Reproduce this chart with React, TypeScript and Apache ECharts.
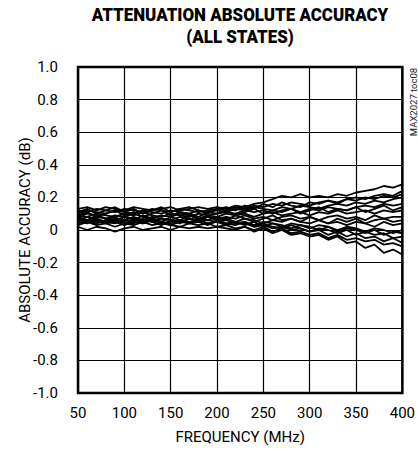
import React, { useEffect, useRef } from "react";
import * as echarts from "echarts";

const freqs = [50,60,70,80,90,100,110,120,130,140,150,160,170,180,190,200,210,220,230,240,250,260,270,280,290,300,310,320,330,340,350,360,370,380,390,400];

const s1 = [0.13,0.14,0.12,0.14,0.13,0.12,0.14,0.13,0.12,0.13,0.14,0.12,0.13,0.14,0.13,0.14,0.13,0.15,0.14,0.16,0.17,0.19,0.21,0.20,0.22,0.20,0.21,0.20,0.22,0.21,0.23,0.24,0.25,0.27,0.26,0.28];
const s2 = [0.12,0.11,0.13,0.12,0.11,0.13,0.12,0.11,0.13,0.12,0.11,0.13,0.12,0.11,0.12,0.13,0.12,0.14,0.13,0.15,0.14,0.16,0.15,0.17,0.16,0.15,0.17,0.18,0.17,0.19,0.20,0.19,0.21,0.22,0.21,0.24];
const s3 = [0.10,0.12,0.11,0.10,0.12,0.11,0.10,0.12,0.11,0.10,0.12,0.11,0.10,0.12,0.11,0.12,0.11,0.13,0.12,0.14,0.13,0.12,0.14,0.13,0.15,0.14,0.13,0.15,0.16,0.15,0.17,0.16,0.18,0.17,0.19,0.20];
const s4 = [0.09,0.08,0.10,0.09,0.08,0.10,0.09,0.11,0.09,0.08,0.10,0.09,0.08,0.10,0.09,0.10,0.11,0.10,0.12,0.11,0.12,0.10,0.12,0.13,0.11,0.13,0.12,0.14,0.13,0.12,0.14,0.15,0.14,0.16,0.15,0.16];
const s5 = [0.08,0.10,0.09,0.07,0.09,0.08,0.10,0.08,0.07,0.09,0.08,0.10,0.09,0.07,0.09,0.08,0.10,0.09,0.10,0.08,0.10,0.11,0.09,0.10,0.11,0.09,0.11,0.10,0.12,0.10,0.11,0.12,0.10,0.12,0.11,0.12];
const s6 = [0.07,0.06,0.08,0.07,0.06,0.08,0.07,0.06,0.08,0.07,0.06,0.08,0.07,0.06,0.08,0.07,0.08,0.07,0.09,0.07,0.08,0.06,0.08,0.09,0.07,0.08,0.06,0.08,0.09,0.07,0.08,0.06,0.09,0.07,0.08,0.08];
const s7 = [0.06,0.08,0.06,0.05,0.07,0.06,0.08,0.06,0.05,0.07,0.06,0.05,0.07,0.06,0.08,0.06,0.07,0.05,0.07,0.06,0.04,0.06,0.05,0.07,0.05,0.04,0.06,0.04,0.05,0.03,0.05,0.04,0.02,0.05,0.03,0.04];
const s8 = [0.05,0.04,0.06,0.05,0.04,0.06,0.05,0.04,0.06,0.04,0.05,0.06,0.04,0.05,0.06,0.05,0.06,0.04,0.05,0.03,0.05,0.04,0.02,0.04,0.03,0.01,0.03,0.02,0.00,0.02,0.01,-0.01,0.01,0.00,-0.02,0.00];
const s9 = [0.04,0.06,0.05,0.04,0.05,0.03,0.05,0.04,0.06,0.05,0.03,0.05,0.04,0.06,0.04,0.05,0.03,0.05,0.04,0.02,0.04,0.02,0.01,0.03,0.01,-0.01,0.01,0.00,-0.02,0.00,-0.03,-0.01,-0.03,-0.02,-0.05,-0.04];
const s10 = [0.06,0.05,0.07,0.05,0.06,0.04,0.06,0.05,0.07,0.05,0.04,0.06,0.05,0.06,0.04,0.05,0.04,0.03,0.05,0.02,0.03,0.01,0.02,0.00,0.01,-0.01,0.00,-0.03,-0.01,-0.04,-0.02,-0.05,-0.04,-0.07,-0.05,-0.08];
const s11 = [0.02,0.00,0.02,0.01,-0.01,0.01,0.02,0.00,0.01,0.02,0.00,0.02,0.01,0.02,0.01,0.02,0.01,0.00,0.02,-0.01,0.01,-0.02,0.00,-0.03,-0.02,-0.04,-0.03,-0.06,-0.04,-0.08,-0.07,-0.11,-0.09,-0.14,-0.12,-0.15];
const s12 = [0.03,0.05,0.03,0.04,0.02,0.04,0.03,0.05,0.03,0.04,0.03,0.02,0.04,0.03,0.04,0.02,0.03,0.01,0.02,0.00,0.02,-0.01,0.01,-0.02,-0.01,-0.03,-0.02,-0.05,-0.03,-0.06,-0.05,-0.07,-0.06,-0.09,-0.08,-0.10];
const s13 = [0.11,0.13,0.10,0.12,0.14,0.11,0.13,0.10,0.12,0.14,0.11,0.13,0.14,0.12,0.10,0.13,0.14,0.12,0.15,0.13,0.16,0.14,0.17,0.15,0.14,0.17,0.16,0.18,0.16,0.19,0.18,0.20,0.19,0.21,0.20,0.22];
const s14 = [0.09,0.11,0.08,0.10,0.12,0.09,0.11,0.08,0.10,0.12,0.09,0.11,0.10,0.08,0.11,0.10,0.12,0.09,0.11,0.13,0.10,0.12,0.11,0.13,0.10,0.12,0.14,0.11,0.13,0.12,0.14,0.11,0.13,0.15,0.12,0.14];
const s15 = [0.08,0.06,0.09,0.07,0.05,0.08,0.06,0.09,0.07,0.05,0.08,0.06,0.09,0.07,0.06,0.08,0.06,0.09,0.07,0.05,0.07,0.09,0.06,0.07,0.05,0.08,0.06,0.04,0.07,0.05,0.07,0.04,0.06,0.07,0.05,0.06];
const s16 = [0.07,0.05,0.04,0.06,0.08,0.05,0.04,0.07,0.05,0.03,0.06,0.04,0.07,0.05,0.03,0.06,0.04,0.05,0.03,0.05,0.02,0.04,0.03,0.01,0.03,0.02,0.00,0.02,-0.01,0.01,0.00,-0.02,0.00,-0.03,-0.01,-0.02];

const allSeries = [s1, s2, s3, s4, s5, s6, s7, s8, s9, s10, s11, s12, s13, s14, s15, s16];

const xTicks = [50, 100, 150, 200, 250, 300, 350, 400];
const yTickLabels = ["-1.0","-0.8","-0.6","-0.4","-0.2","0","0.2","0.4","0.6","0.8","1.0"];

const titleLines = ["ATTENUATION ABSOLUTE ACCURACY", "(ALL STATES)"];
const sideNote = "MAX2027 toc08";

const FONT = "Roboto, 'Liberation Sans', sans-serif";

export default function App() {
  const ref = useRef<HTMLDivElement>(null);
  useEffect(() => {
    if (!ref.current) return;
    const chart = echarts.init(ref.current, null, { renderer: "svg" });
    chart.setOption({
      animation: false,
      backgroundColor: "#fff",
      graphic: [
        {
          type: "text",
          x: 240,
          y: 15,
          scaleX: 0.94,
          style: { text: titleLines[0], fill: "#000", font: `900 18px ${FONT}`, textAlign: "center", textVerticalAlign: "middle" },
        },
        {
          type: "text",
          x: 240,
          y: 37,
          scaleX: 0.94,
          style: { text: titleLines[1], fill: "#000", font: `900 18px ${FONT}`, textAlign: "center", textVerticalAlign: "middle" },
        },
        {
          type: "text",
          x: 413,
          y: 102,
          rotation: Math.PI / 2,
          style: { text: sideNote, fill: "#222", font: `9.5px ${FONT}`, textAlign: "center", textVerticalAlign: "middle" },
        },
      ],
      grid: { left: 78, right: 13, top: 67, bottom: 61, show: true, borderColor: "#000", borderWidth: 2.5 },
      xAxis: {
        type: "value",
        min: 50,
        max: 400,
        interval: 50,
        name: "FREQUENCY (MHz)",
        nameLocation: "middle",
        nameGap: 36,
        nameTextStyle: { fontFamily: FONT, fontSize: 15, color: "#000" },
        axisLine: { show: false },
        axisTick: { show: false },
        axisLabel: { fontFamily: FONT, fontSize: 15, color: "#000", margin: 12, formatter: (v: number) => (xTicks.includes(v) ? String(v) : "") },
        splitLine: { show: true, lineStyle: { color: "#000", width: 1.2 } },
      },
      yAxis: {
        type: "value",
        min: -1,
        max: 1,
        interval: 0.2,
        name: "ABSOLUTE ACCURACY (dB)",
        nameLocation: "middle",
        nameGap: 46,
        nameMoveOverlap: false,
        nameTextStyle: { fontFamily: FONT, fontSize: 15, color: "#000" },
        axisLine: { show: false },
        axisTick: { show: false },
        axisLabel: {
          fontFamily: FONT,
          fontSize: 15,
          color: "#000",
          margin: 20,
          formatter: (v: number) => yTickLabels[Math.round((v + 1) / 0.2)] ?? "",
        },
        splitLine: { show: true, lineStyle: { color: "#000", width: 1.2 } },
      },
      series: allSeries.map((s, i) => ({
        type: "line",
        name: "state" + (i + 1),
        data: freqs.map((f, j) => [f, s[j]]),
        symbol: "none",
        lineStyle: { color: "#000", width: 1.8 },
        silent: true,
      })),
    });
    return () => chart.dispose();
  }, []);
  return <div ref={ref} style={{ width: 418, height: 454, position: "absolute", left: 0, top: 0 }} />;
}
